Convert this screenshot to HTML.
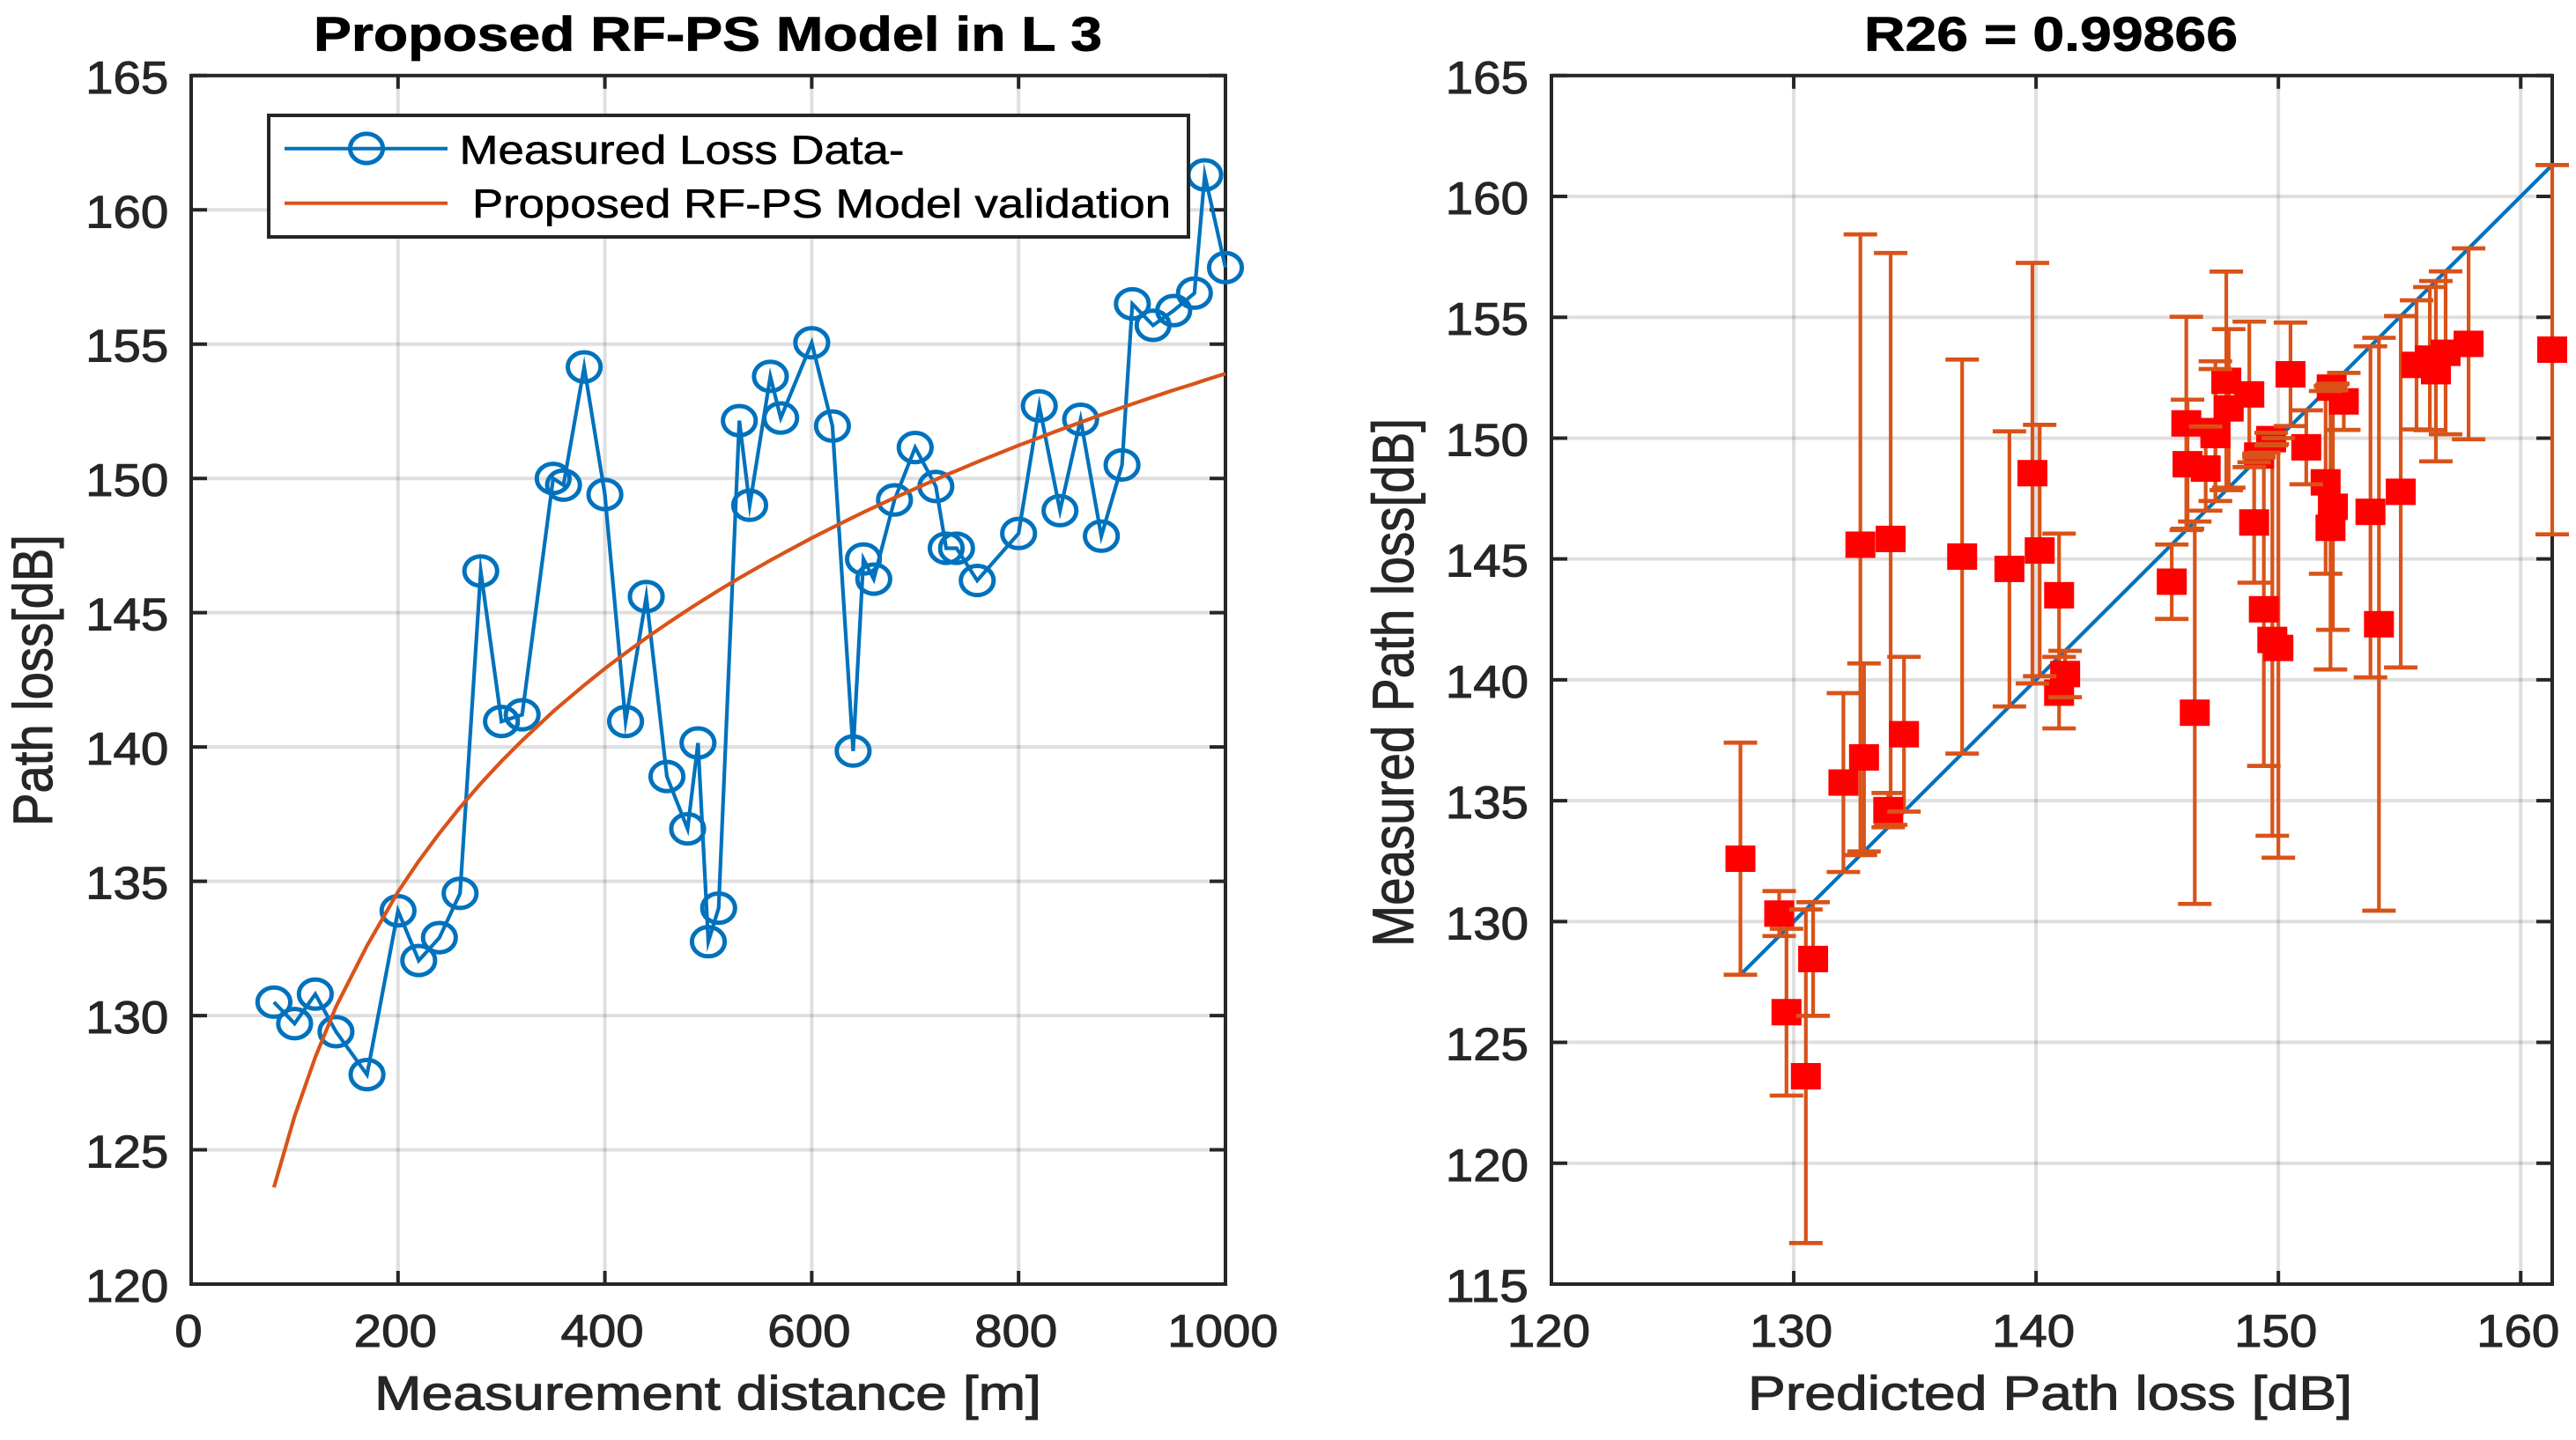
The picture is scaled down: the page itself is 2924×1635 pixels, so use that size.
<!DOCTYPE html>
<html>
<head>
<meta charset="utf-8">
<title>Proposed RF-PS Model</title>
<style>
html,body{margin:0;padding:0;background:#fff;width:2924px;height:1635px;overflow:hidden}
svg{display:block}
text{font-family:"Liberation Sans",sans-serif;fill:#262626;text-rendering:geometricPrecision}
.t{stroke:#262626;stroke-width:1px}
.b{fill:#000;stroke:#000;stroke-width:0.8px}
.l{stroke:#000;stroke-width:0.6px;fill:#000}
</style>
</head>
<body>
<svg id="figure" xmlns="http://www.w3.org/2000/svg" width="2924" height="1635" viewBox="0 0 2924 1635">
  <rect width="2924" height="1635" fill="#fff"/>
  <g id="left-axes"></g>
  <g id="right-axes"></g>
  <g id="left-data"></g>
  <g id="right-data"></g>

  <g>
    <rect x="305" y="131" width="1044" height="138" fill="#fff" stroke="#262626" stroke-width="4"/>
    <line x1="323" y1="168.7" x2="508" y2="168.7" stroke="#0072BD" stroke-width="4"/>
    <ellipse cx="416" cy="168.5" rx="18.6" ry="16.6" fill="none" stroke="#0072BD" stroke-width="5"/>
    <text class="l" x="521.5" y="186" font-size="46" textLength="505" lengthAdjust="spacingAndGlyphs">Measured Loss Data-</text>
    <line x1="323" y1="230.7" x2="508" y2="230.7" stroke="#D95319" stroke-width="4"/>
    <text class="l" x="536" y="247" font-size="46" textLength="793" lengthAdjust="spacingAndGlyphs">Proposed RF-PS Model validation</text>
  </g>

  <text class="b" x="356" y="57.5" font-size="55" font-weight="bold" textLength="895" lengthAdjust="spacingAndGlyphs">Proposed RF-PS Model in L 3</text>
  <text class="b" x="2116" y="57.5" font-size="55" font-weight="bold" textLength="424" lengthAdjust="spacingAndGlyphs">R26 = 0.99866</text>
  <text class="t" x="425" y="1600.5" font-size="54.5" textLength="757" lengthAdjust="spacingAndGlyphs">Measurement distance [m]</text>
  <text class="t" x="1984" y="1600.5" font-size="54.5" textLength="686" lengthAdjust="spacingAndGlyphs">Predicted Path loss [dB]</text>
  <text class="t" transform="translate(59 938) rotate(-90)" font-size="63" textLength="331" lengthAdjust="spacingAndGlyphs">Path loss[dB]</text>
  <text class="t" transform="translate(1604 1075) rotate(-90)" font-size="66" textLength="600" lengthAdjust="spacingAndGlyphs">Measured Path loss[dB]</text>
</svg>

<script>
// ---- chart data ----
const distances = [80,100,120,140,170,200,220,240,260,280,300,320,350,360,380,400,420,440,460,480,490,500,510,530,540,560,570,600,620,640,650,660,680,700,720,730,740,760,800,820,840,860,880,900,910,930,950,970,980,1000];
const measuredLoss = [130.5,129.7,130.8,129.4,127.8,133.9,132.05,132.9,134.55,146.55,140.95,141.2,150,149.75,154.15,149.4,140.95,145.6,138.9,136.95,140.15,132.75,134,152.15,149,153.8,152.25,155.05,151.95,139.85,147,146.25,149.2,151.15,149.7,147.4,147.4,146.2,147.95,152.7,148.8,152.2,147.85,150.5,156.5,155.7,156.25,156.9,161.3,157.85];
const modelLoss = [123.6,126.25,128.45,130.33,132.6,134.61,135.75,136.79,137.75,138.64,139.47,140.24,141.32,141.65,142.3,142.92,143.5,144.06,144.59,145.1,145.35,145.59,145.83,146.29,146.51,146.95,147.16,147.78,148.17,148.55,148.74,148.92,149.28,149.62,149.96,150.13,150.29,150.61,151.23,151.52,151.81,152.09,152.37,152.64,152.77,153.03,153.29,153.53,153.66,153.9];
const errorSizes = [6.9,3.45,2.35,0.93,4.8,0.71,3.7,3.89,3.2,7.91,1.48,0.96,8.68,8.1,11.85,6.48,2.55,1.54,5.69,8.15,5.2,12.84,11.83,5.86,2.49,6.85,5.09,7.27,3.78,8.7,1.74,2.67,0.08,1.53,0.26,2.73,2.89,4.41,3.28,1.18,3.01,0.11,4.52,2.14,3.73,2.67,2.96,3.37,7.64,3.95];
const fitLineX = [127.8,161.3];
const fitLineY = [127.8,161.3];
const leftXTicks = [0,200,400,600,800,1000];
const leftYTicks = [120,125,130,135,140,145,150,155,160,165];
const rightXTicks = [120,130,140,150,160];
const rightYTicks = [115,120,125,130,135,140,145,150,155,160,165];

// ---- axis functions ----
const L = {x0:217,x1:1391,y0:1458,y1:85.8,xmin:0,xmax:1000,ymin:120,ymax:165};
const R = {x0:1761,x1:2897,y0:1458,y1:85.8,xmin:120,xmax:161.3,ymin:115,ymax:165};
function sx(a,v){return a.x0+(v-a.xmin)/(a.xmax-a.xmin)*(a.x1-a.x0);}
function sy(a,v){return a.y0-(v-a.ymin)/(a.ymax-a.ymin)*(a.y0-a.y1);}

const NS = 'http://www.w3.org/2000/svg';
function make(parent,tag,attrs){
  const el = document.createElementNS(NS,tag);
  for(const k in attrs){el.setAttribute(k,attrs[k]);}
  parent.appendChild(el);
  return el;
}
const AXC = '#262626';
const GRID = 'rgba(38,38,38,0.15)';
const CHAR_W = 31.4;

function drawAxes(group,a,xTicks,yTicks,prefix,yLabelRight){
  xTicks.forEach(function(t){
    const x = sx(a,t);
    if(t!==a.xmin){
      const g = make(group,'line',{x1:x,y1:a.y1,x2:x,y2:a.y0,stroke:GRID,'stroke-width':4});
      
      
    }
  });
  yTicks.forEach(function(t){
    if(t===a.ymin||t===a.ymax){return;}
    const y = sy(a,t);
    const g = make(group,'line',{x1:a.x0,y1:y,x2:a.x1,y2:y,stroke:GRID,'stroke-width':4});
    
    
  });
  const box = make(group,'rect',{x:a.x0,y:a.y1,width:a.x1-a.x0,height:a.y0-a.y1,fill:'none',stroke:AXC,'stroke-width':4});
  
  
  xTicks.forEach(function(t){
    const x = sx(a,t);
    const b = make(group,'line',{x1:x,y1:a.y0,x2:x,y2:a.y0-15,stroke:AXC,'stroke-width':4});
    
    
    const tp = make(group,'line',{x1:x,y1:a.y1,x2:x,y2:a.y1+15,stroke:AXC,'stroke-width':4});
    
    
    const s = String(t);
    const w = s.length*CHAR_W;
    const lab = make(group,'text',{x:x-3-w/2,y:1529,'font-size':52,textLength:w,lengthAdjust:'spacingAndGlyphs','class':'t'});
    lab.textContent = s;
    
    
  });
  yTicks.forEach(function(t){
    const y = sy(a,t);
    const lt = make(group,'line',{x1:a.x0,y1:y,x2:a.x0+18,y2:y,stroke:AXC,'stroke-width':4});
    
    
    const rt = make(group,'line',{x1:a.x1,y1:y,x2:a.x1-18,y2:y,stroke:AXC,'stroke-width':4});
    
    
    const s = String(t);
    const w = s.length*CHAR_W;
    const lab = make(group,'text',{x:yLabelRight-w,y:y+20,'font-size':52,textLength:w,lengthAdjust:'spacingAndGlyphs','class':'t'});
    lab.textContent = s;
    
    
  });
}
drawAxes(document.getElementById('left-axes'),L,leftXTicks,leftYTicks,'left',191.3);
drawAxes(document.getElementById('right-axes'),R,rightXTicks,rightYTicks,'right',1735);

// ---- left chart ----
const leftData = document.getElementById('left-data');
const measuredPts = distances.map(function(d,i){return sx(L,d).toFixed(1)+','+sy(L,measuredLoss[i]).toFixed(1);}).join(' ');
const measuredLine = make(leftData,'polyline',{points:measuredPts,fill:'none',stroke:'#0072BD','stroke-width':4.2,'stroke-linejoin':'miter','stroke-miterlimit':10});


distances.forEach(function(d,i){
  const c = make(leftData,'ellipse',{cx:sx(L,d),cy:sy(L,measuredLoss[i]),rx:18.6,ry:16.6,fill:'none',stroke:'#0072BD','stroke-width':5});
  
  
});
const modelPts = distances.map(function(d,i){return sx(L,d).toFixed(1)+','+sy(L,modelLoss[i]).toFixed(1);}).join(' ');
const modelLine = make(leftData,'polyline',{points:modelPts,fill:'none',stroke:'#D95319','stroke-width':4.2,'stroke-linejoin':'round'});



// ---- right chart ----
const rightData = document.getElementById('right-data');
const fit = make(rightData,'line',{x1:sx(R,fitLineX[0]),y1:sy(R,fitLineY[0]),x2:sx(R,fitLineX[1]),y2:sy(R,fitLineY[1]),stroke:'#0072BD','stroke-width':4.2});


measuredLoss.forEach(function(m,i){
  const x = sx(R,m);
  const stem = make(rightData,'line',{x1:x,y1:sy(R,modelLoss[i]-errorSizes[i]),x2:x,y2:sy(R,modelLoss[i]+errorSizes[i]),stroke:'#D95319','stroke-width':4.2});
  
  
});
measuredLoss.forEach(function(m,i){
  const sq = make(rightData,'rect',{x:sx(R,m)-17,y:sy(R,modelLoss[i])-15,width:34,height:30,fill:'#FF0000'});
  
  
});
measuredLoss.forEach(function(m,i){
  const x = sx(R,m);
  [modelLoss[i]-errorSizes[i],modelLoss[i]+errorSizes[i]].forEach(function(v){
    const cap = make(rightData,'line',{x1:x-19,y1:sy(R,v),x2:x+19,y2:sy(R,v),stroke:'#D95319','stroke-width':4.7});
    
    
  });
});
</script>
</body>
</html>
